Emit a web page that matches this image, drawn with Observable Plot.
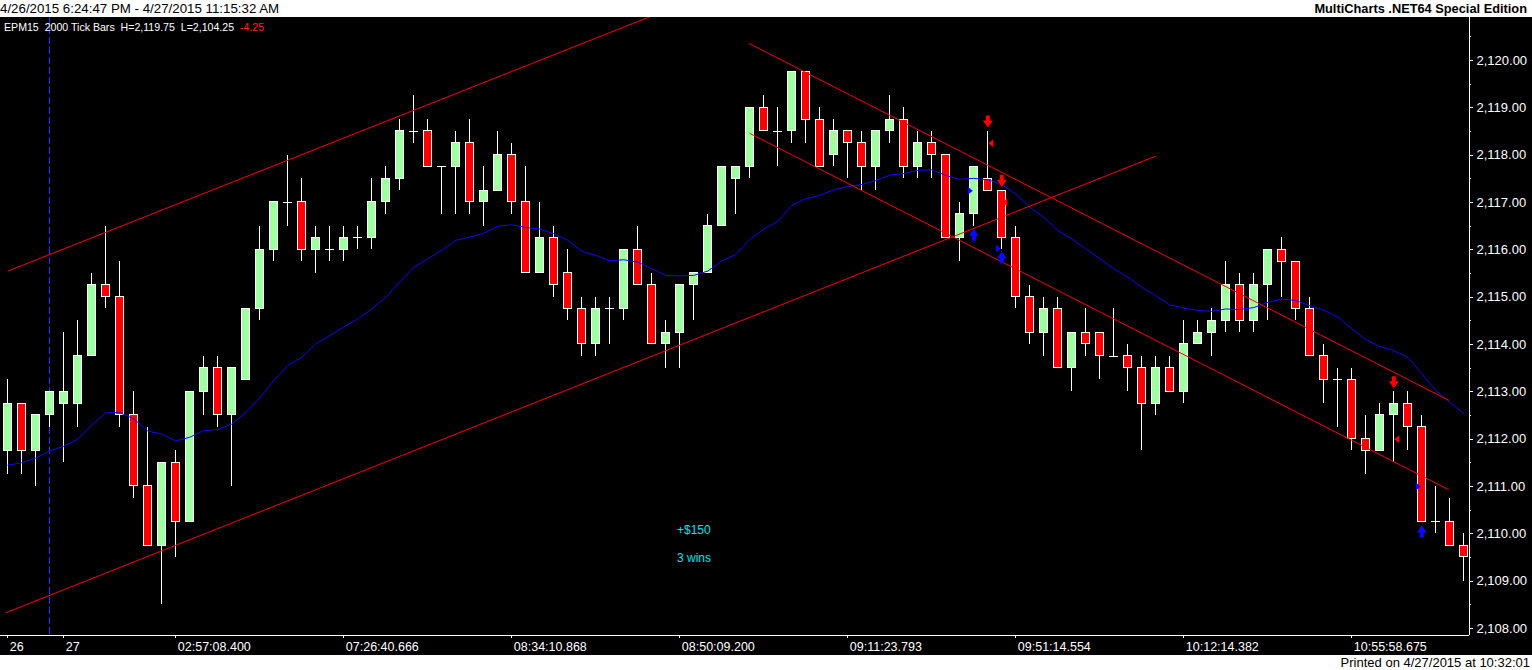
<!DOCTYPE html>
<html><head><meta charset="utf-8">
<script src="https://cdn.jsdelivr.net/npm/d3@7"></script>
<script src="https://cdn.jsdelivr.net/npm/@observablehq/plot@0.6"></script>
<style>
html,body{margin:0;padding:0;background:#fff;width:1532px;height:670px;overflow:hidden;font-family:"Liberation Sans",Arial,sans-serif;}
#top{height:17px;position:relative;background:#fff;}
#top .l{position:absolute;left:0;top:1px;font-size:13.3px;color:#000;white-space:pre}
#top .r{position:absolute;right:5px;top:1px;font-size:12.8px;font-weight:bold;color:#000}
#chart{position:relative;height:638px;background:#000}
#chart svg{display:block}
#hdr{position:absolute;left:4px;top:4px;font-size:10.6px;color:#fff;white-space:pre}
#hdr .neg{color:#ff2020}
#bot{height:15px;position:relative;background:#fff}
#bot .r{position:absolute;right:2px;top:0;font-size:13px;color:#000}
</style></head>
<body>
<div id="top"><span class="l">4/26/2015 6:24:47 PM - 4/27/2015 11:15:32 AM</span><span class="r">MultiCharts .NET64 Special Edition</span></div>
<div id="chart"><div id="hdr">EPM15  2000 Tick Bars  H=2,119.75  L=2,104.25  <span class="neg">-4.25</span></div></div>
<div id="bot"><span class="r">Printed on 4/27/2015 at 10:32:01</span></div>
<script>
// ---- data ----
const barOpen = [2111.75,2112.75,2111.75,2112.5,2112.75,2112.75,2113.75,2115.25,2115.0,2112.5,
2111.0,2109.75,2111.5,2110.25,2113.0,2113.5,2112.5,2113.25,2114.75,2116.0,
2117.0,2117.0,2116.0,2116.0,2116.0,2116.25,2116.25,2117.0,2117.5,2118.5,
2118.5,2117.75,2117.75,2118.25,2117.0,2117.25,2118.0,2117.0,2115.5,2116.25,
2115.5,2114.75,2114.0,2114.75,2114.75,2116.0,2115.25,2114.0,2114.25,2115.25,
2115.5,2116.5,2117.5,2117.75,2119.0,2118.5,2118.5,2119.75,2118.75,2118.0,
2118.5,2118.25,2117.75,2118.5,2118.75,2117.75,2118.25,2118.0,2116.25,2116.75,
2117.5,2117.25,2116.25,2115.0,2114.25,2114.75,2113.5,2114.25,2114.25,2113.75,
2113.75,2113.5,2112.75,2113.5,2113.0,2114.0,2114.25,2114.5,2115.25,2114.5,
2115.25,2116.0,2115.75,2114.75,2113.75,2113.25,2113.25,2112.0,2111.75,2112.5,
2112.75,2112.25,2110.25,2110.25,2109.75];
const barHigh = [2113.25,2112.75,2112.5,2113.0,2114.25,2114.5,2115.5,2116.5,2115.75,2113.0,
2112.25,2111.5,2111.75,2113.0,2113.75,2113.75,2113.5,2114.75,2116.5,2117.0,
2118.0,2117.5,2116.5,2116.5,2116.5,2116.5,2117.5,2117.75,2118.75,2119.25,
2118.75,2117.75,2118.5,2118.75,2117.75,2118.5,2118.25,2117.75,2117.0,2116.5,
2116.0,2115.0,2115.0,2115.0,2116.0,2116.5,2115.5,2114.5,2115.25,2115.5,
2116.75,2117.75,2117.75,2119.0,2119.25,2119.0,2119.75,2119.75,2119.0,2118.75,
2118.5,2118.5,2118.5,2119.25,2119.0,2118.5,2118.5,2118.0,2117.0,2117.75,
2118.5,2117.25,2116.5,2115.25,2115.0,2115.0,2114.25,2114.75,2114.25,2114.75,
2114.0,2113.75,2113.75,2113.75,2114.5,2114.5,2114.75,2115.75,2115.5,2115.5,
2116.0,2116.25,2115.75,2115.0,2114.0,2113.5,2113.5,2112.5,2112.75,2113.0,
2113.0,2112.5,2111.0,2110.75,2110.0];
const barLow = [2111.25,2111.25,2111.0,2112.25,2111.5,2112.25,2113.75,2114.75,2112.25,2110.75,
2109.75,2108.5,2109.5,2110.25,2112.5,2112.25,2111.0,2113.25,2114.5,2115.75,
2116.5,2115.75,2115.5,2115.75,2115.75,2116.0,2116.0,2116.75,2117.25,2118.25,
2117.75,2116.75,2116.75,2116.75,2116.5,2117.25,2116.75,2115.5,2115.5,2115.0,
2114.5,2113.75,2113.75,2114.0,2114.5,2115.25,2114.0,2113.5,2113.5,2114.5,
2115.5,2116.5,2116.75,2117.5,2118.5,2117.75,2118.25,2118.25,2117.75,2117.75,
2117.5,2117.25,2117.25,2118.25,2117.5,2117.5,2117.5,2116.25,2115.75,2116.5,
2117.25,2116.0,2114.75,2114.0,2113.75,2113.5,2113.0,2113.75,2113.25,2113.75,
2113.0,2111.75,2112.5,2113.0,2112.75,2114.0,2113.75,2114.25,2114.25,2114.25,
2114.5,2115.0,2114.5,2113.75,2112.75,2112.25,2111.75,2111.25,2111.75,2111.5,
2111.75,2110.25,2110.0,2109.75,2109.0];
const barClose = [2112.75,2111.75,2112.5,2113.0,2113.0,2113.75,2115.25,2115.0,2112.5,2111.0,
2109.75,2111.5,2110.25,2113.0,2113.5,2112.5,2113.5,2114.75,2116.0,2117.0,
2117.0,2116.0,2116.25,2116.0,2116.25,2116.25,2117.0,2117.5,2118.5,2118.5,
2117.75,2117.75,2118.25,2117.0,2117.25,2118.0,2117.0,2115.5,2116.25,2115.25,
2114.75,2114.0,2114.75,2114.75,2116.0,2115.25,2114.0,2114.25,2115.25,2115.5,
2116.5,2117.75,2117.75,2119.0,2118.5,2118.5,2119.75,2118.75,2117.75,2118.5,
2118.25,2117.75,2118.5,2118.75,2117.75,2118.25,2118.0,2116.25,2116.75,2117.75,
2117.25,2116.25,2115.0,2114.25,2114.75,2113.5,2114.25,2114.0,2113.75,2113.75,
2113.5,2112.75,2113.5,2113.0,2114.0,2114.25,2114.5,2115.25,2114.5,2115.25,
2116.0,2115.75,2114.75,2113.75,2113.25,2113.25,2112.0,2111.75,2112.5,2112.75,
2112.25,2110.25,2110.25,2109.75,2109.5];
const maValues = [2111.45,2111.5,2111.6,2111.75,2111.85,2112.0,2112.3,2112.56,2112.56,2112.43,
2112.17,2112.11,2111.96,2112.04,2112.18,2112.2,2112.32,2112.56,2112.87,2113.24,
2113.56,2113.73,2114.01,2114.19,2114.37,2114.54,2114.75,2115.0,2115.32,2115.63,
2115.81,2115.99,2116.2,2116.27,2116.35,2116.5,2116.53,2116.47,2116.44,2116.34,
2116.2,2115.97,2115.88,2115.77,2115.79,2115.74,2115.6,2115.46,2115.45,2115.46,
2115.55,2115.77,2115.9,2116.22,2116.44,2116.6,2116.94,2117.08,2117.15,2117.27,
2117.34,2117.38,2117.46,2117.58,2117.61,2117.68,2117.69,2117.57,2117.49,2117.51,
2117.48,2117.38,2117.18,2116.9,2116.69,2116.41,2116.23,2116.02,2115.81,2115.6,
2115.42,2115.21,2115.03,2114.84,2114.77,2114.72,2114.7,2114.75,2114.74,2114.78,
2114.89,2114.96,2114.93,2114.82,2114.72,2114.58,2114.33,2114.1,2113.96,2113.87,
2113.73,2113.38,2113.03,2112.78,2112.54];

const xTickBars = [0,4,12,24,36,48,60,72,84,96];
const xTickLabels = ["26","27","02:57:08.400","07:26:40.666","08:34:10.868","08:50:09.200","09:11:23.793","09:51:14.554","10:12:14.382","10:55:58.675"];
const yTickValues = [2108,2109,2110,2111,2112,2113,2114,2115,2116,2117,2118,2119,2120];
const yMinorValues = [2108.5,2109.5,2110.5,2111.5,2112.5,2113.5,2114.5,2115.5,2116.5,2117.5,2118.5,2119.5,2120.5];
const sessionBreakBar = [3];

// trendlines: start bar, start price, end bar, end price
const trendX1 = [0, -0.15, 52.94, 53.0];
const trendY1 = [2115.55, 2108.33, 2120.36, 2118.46];
const trendX2 = [46, 82, 102.93, 102.93];
const trendY2 = [2120.94, 2117.98, 2112.82, 2110.93];

// strategy markers
const redArrowBars = [70, 71, 99], redArrowPrices = [2118.71, 2117.46, 2113.2];
const blueArrowBars = [69, 71, 101], blueArrowPrices = [2116.32, 2115.84, 2110.05];
const redTriBars = [70, 71, 99], redTriPrices = [2118.25, 2117.0, 2112.0];
const blueTriBars = [69, 71, 101], blueTriPrices = [2117.25, 2116.03, 2111.0];

const noteBars = [47.8, 47.8], notePrices = [2110.07, 2109.48], noteTexts = ["+$150", "3 wins"];

// ---- build tables ----
const bars = barOpen.map((o, i) => ({i, open: o, high: barHigh[i], low: barLow[i], close: barClose[i]}));
const upBars = bars.filter(d => d.close > d.open);
const downBars = bars.filter(d => d.close < d.open);
const dojis = bars.filter(d => d.close === d.open);
const ma = maValues.map((v, i) => ({i, v}));
const trends = trendX1.map((x1, k) => ({x1, y1: trendY1[k], x2: trendX2[k], y2: trendY2[k]}));
const pts = (b, p) => b.map((i, k) => ({i, p: p[k]}));
const xTicks = xTickBars.map((i, k) => ({i, label: xTickLabels[k]}));
const notes = noteBars.map((i, k) => ({i, p: notePrices[k], t: noteTexts[k]}));

// layout: 14 px per bar, first bar 7.3 px from the left; 47.33 px per point
const pxPerBar = 14, pxPerPt = 47.33;
const W = 1532, H = 638, mR = 63, mB = 20;
const frameW = W - mR, frameH = H - mB;
const xLo = -7.3 / pxPerBar, xHi = xLo + frameW / pxPerBar;
const yHi = 2120 + 43 / pxPerPt, yLo = yHi - frameH / pxPerPt;

const poly = pts => ({draw(ctx) { ctx.moveTo(pts[0][0], pts[0][1]); for (const p of pts.slice(1)) ctx.lineTo(p[0], p[1]); ctx.closePath(); }});
const arrowDown = poly([[-2,-6],[2,-6],[2,-1],[5,-1],[0,6],[-5,-1],[-2,-1]]);
const arrowUp = poly([[-2,6],[2,6],[2,1],[5,1],[0,-6],[-5,1],[-2,1]]);
const triLeft = poly([[2,-4],[-3,0],[2,4]]);
const triRight = poly([[-2,-4],[3,0],[-2,4]]);

const green = "#a0ffa0", red = "#ff0000", white = "#ffffff";
const fmt = d3.format(",.2f");

const chart = Plot.plot({
  width: W, height: H,
  marginLeft: 0, marginRight: mR, marginTop: 0, marginBottom: mB,
  x: {domain: [xLo, xHi], axis: null},
  y: {domain: [yLo, yHi], axis: null},
  style: {background: "#000", color: "#fff", fontFamily: "Liberation Sans, Arial, sans-serif", overflow: "visible"},
  marks: [
    Plot.ruleX(sessionBreakBar, {x: d => d, stroke: "#2a2aff", strokeDasharray: "7,3", shapeRendering: "crispEdges"}),
    Plot.ruleX(bars, {x: "i", y1: "low", y2: "high", stroke: white, shapeRendering: "crispEdges"}),
    Plot.rect(upBars, {x1: d => d.i - 0.3, x2: d => d.i + 0.3, y1: "open", y2: "close", fill: green, stroke: white, shapeRendering: "crispEdges"}),
    Plot.rect(downBars, {x1: d => d.i - 0.3, x2: d => d.i + 0.3, y1: "open", y2: "close", fill: red, stroke: white, shapeRendering: "crispEdges"}),
    Plot.ruleY(dojis, {y: "open", x1: d => d.i - 0.34, x2: d => d.i + 0.34, stroke: white, shapeRendering: "crispEdges"}),
    Plot.line(ma, {x: "i", y: "v", stroke: "#0a0aff", strokeWidth: 1, clip: true}),
    Plot.link(trends, {x1: "x1", y1: "y1", x2: "x2", y2: "y2", stroke: red, strokeWidth: 1, clip: true}),
    Plot.dot(pts(redArrowBars, redArrowPrices), {x: "i", y: "p", symbol: arrowDown, fill: red, stroke: "none"}),
    Plot.dot(pts(blueArrowBars, blueArrowPrices), {x: "i", y: "p", symbol: arrowUp, fill: "#0a0aff", stroke: "none"}),
    Plot.dot(pts(redTriBars, redTriPrices), {x: "i", y: "p", symbol: triLeft, dx: 3.5, fill: red, stroke: "none"}),
    Plot.dot(pts(blueTriBars, blueTriPrices), {x: "i", y: "p", symbol: triRight, dx: -4, fill: "#0a0aff", stroke: "none"}),
    Plot.text(notes, {x: "i", y: "p", text: "t", fill: "#00e5e5", textAnchor: "start", fontSize: 12}),
    // axes
    Plot.ruleX([xHi], {x: d => d, stroke: white, shapeRendering: "crispEdges"}),
    Plot.ruleY([yLo], {y: d => d, x1: xLo, x2: xHi, stroke: white, shapeRendering: "crispEdges"}),
    Plot.ruleY(yTickValues, {y: d => d, x1: xHi, x2: xHi + 4 / pxPerBar, stroke: white, shapeRendering: "crispEdges"}),
    Plot.ruleY(yMinorValues.filter(v => v < yHi), {y: d => d, x1: xHi, x2: xHi + 2 / pxPerBar, stroke: white, shapeRendering: "crispEdges"}),
    Plot.text(yTickValues, {x: xHi, y: d => d, text: d => fmt(d), dx: 7, textAnchor: "start", fill: white, fontSize: 13}),
    Plot.ruleX(xTicks, {x: "i", y1: yLo, y2: yLo - 3 / pxPerPt, stroke: white, shapeRendering: "crispEdges"}),
    Plot.text(xTicks, {x: "i", y: yLo, text: "label", dx: 2, dy: 11, textAnchor: "start", fill: white, fontSize: 12.5})
  ]
});
document.getElementById("chart").appendChild(chart);
</script>
</body></html>
